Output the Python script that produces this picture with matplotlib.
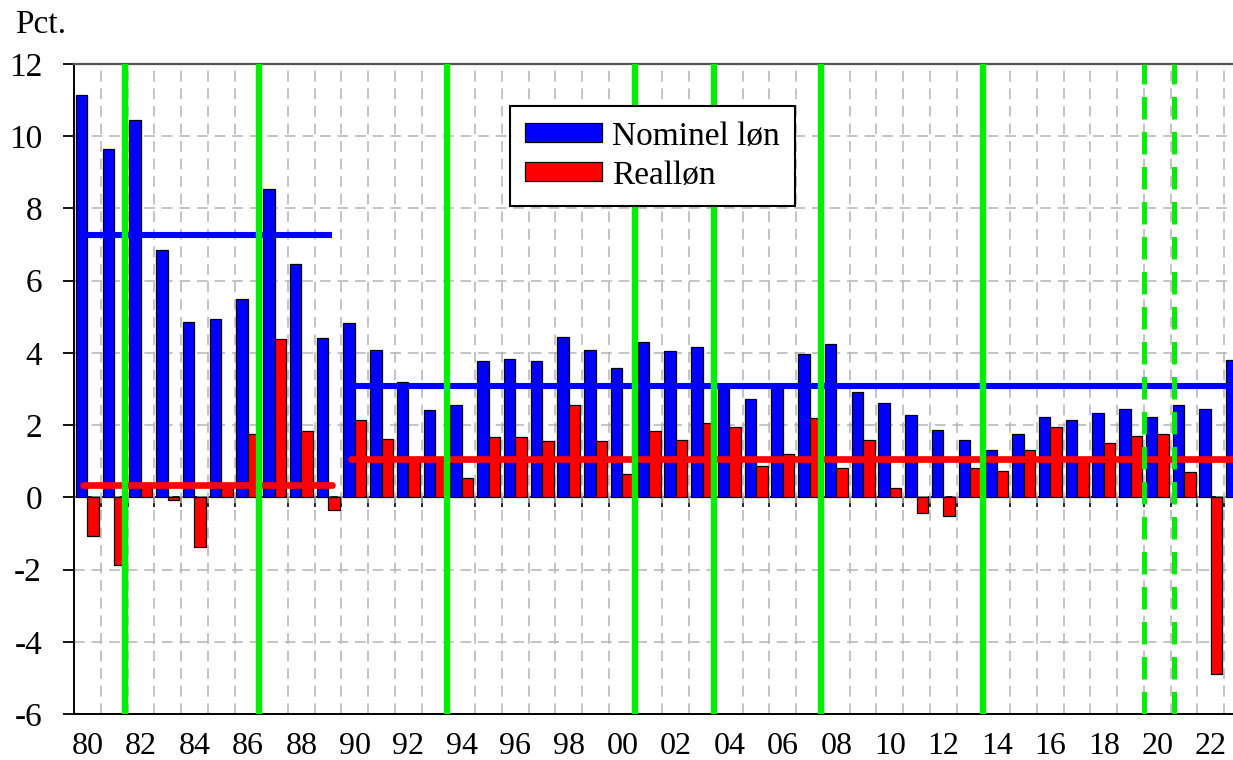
import numpy as np
import matplotlib
matplotlib.use("Agg")
import matplotlib.pyplot as plt
from matplotlib.ticker import MultipleLocator, FixedLocator

plt.rcParams['font.family'] = ['Liberation Serif', 'DejaVu Serif']
plt.rcParams['axes.unicode_minus'] = False

# data (pct. growth per year)
years = list(range(1980, 2024))
nominel = [11.15, 9.65, 10.45, 6.85, 4.85, 4.95, 5.5, 8.55, 6.47, 4.42,
           4.84, 4.08, 3.19, 2.41, 2.56, 3.78, 3.82, 3.78, 4.44, 4.09,
           3.59, 4.29, 4.06, 4.17, 3.1, 2.72, 3.05, 3.97, 4.25, 2.91,
           2.6, 2.29, 1.86, 1.6, 1.32, 1.75, 2.22, 2.13, 2.34, 2.45,
           2.22, 2.57, 2.45, 3.81]
realloen = [-1.06, -1.88, 0.4, -0.07, -1.38, 0.3, 1.75, 4.38, 1.83, -0.35,
            2.13, 1.62, 1.05, 1.1, 0.53, 1.66, 1.66, 1.55, 2.56, 1.55,
            0.65, 1.85, 1.59, 2.06, 1.94, 0.88, 1.2, 2.21, 0.8, 1.59,
            0.26, -0.43, -0.53, 0.81, 0.74, 1.31, 1.94, 1.1, 1.51, 1.71,
            1.75, 0.69, -4.89, np.nan]

# period averages
period_start = [1980, 1990]
period_end = [1989, 2024]
avg_nominel = [7.27, 3.08]
avg_real = [0.35, 1.07]

# vertical markers (year units on the chart axis)
events_solid = [1981.39, 1986.42, 1993.43, 2000.47, 2003.43, 2007.43, 2013.48]
events_dashed = [2019.49, 2020.62]

blue = '#0000ff'
red = '#ff0000'
green = '#00ee00'

fig = plt.figure(figsize=(12.33, 7.6), dpi=100)
ax = fig.add_axes([74 / 1233, 1 - 714 / 760, (1240 - 74) / 1233, 650 / 760])

x = np.array(years)
w = 0.43
ax.bar(x - w / 2, nominel, width=w, color=blue, edgecolor='black', linewidth=0.9,
       label='Nominel løn', zorder=2)
ax.bar(x + w / 2, realloen, width=w, color=red, edgecolor='black', linewidth=0.9,
       label='Realløn', zorder=2)

for s, e, bn, br in zip(period_start, period_end, avg_nominel, avg_real):
    ax.plot([s - 0.15, e + 0.15], [bn, bn], color=blue, lw=4.4, zorder=3,
            solid_capstyle='butt')
    ax.plot([s - 0.15, e + 0.15], [br, br], color=red, lw=4.8, zorder=3,
            solid_capstyle='round')

for ev in events_solid:
    ax.axvline(ev, color=green, lw=4.6, zorder=4)
for ev in events_dashed:
    ax.axvline(ev, color=green, lw=3.6, dashes=(4.5, 2.5), zorder=4)

ax.set_xlim(1979.5, 1979.5 + (1240 - 74) / 26.75)
ax.set_ylim(-6, 12)

ax.yaxis.set_major_locator(MultipleLocator(2))
ax.set_xticks(years[::2])
ax.set_xticklabels([f"{y % 100:02d}" for y in years[::2]])
ax.xaxis.set_minor_locator(FixedLocator(np.arange(1980.5, 2024, 1)))

ax.tick_params(axis='x', which='both', length=0, pad=13, labelsize=23)
ax.tick_params(axis='y', which='major', length=8, width=1.3, direction='out',
               pad=15, labelsize=24)

ax.set_axisbelow(True)
ax.grid(axis='y', which='major', color='#b4b4b4', lw=1.1, dashes=(7, 4.5))
ax.grid(axis='x', which='minor', color='#b4b4b4', lw=1.1, dashes=(7, 4.5))

for side in ['left', 'bottom']:
    ax.spines[side].set_linewidth(1.4)
    ax.spines[side].set_color('black')
ax.spines['top'].set_linewidth(1.6)
ax.spines['top'].set_color('#555555')
ax.spines['right'].set_visible(False)

# zero line with small year ticks
zero_ax = ax.secondary_xaxis(6 / 18)
zero_ax.set_alignment('bottom')
zero_ax.set_xticks(np.arange(1980.5, 2024, 1))
zero_ax.tick_params(axis='x', direction='out', length=7, width=1.2,
                    labelbottom=False, labeltop=False)
zero_ax.spines['bottom'].set_linewidth(1.3)
zero_ax.spines['bottom'].set_color('black')

leg = ax.legend(loc='upper left', bbox_to_anchor=(0.374, 0.935), borderaxespad=0,
                fontsize=24, fancybox=False, edgecolor='black', framealpha=1,
                handlelength=2.3, handleheight=0.5, handletextpad=0.3,
                labelspacing=0.25, borderpad=0.45)
leg.get_frame().set_linewidth(1.5)
leg.set_zorder(10)

fig.text(15 / 1233, 1 - 25 / 760, 'Pct.', fontsize=24, va='center', ha='left')

fig.savefig('out.png', dpi=100)
